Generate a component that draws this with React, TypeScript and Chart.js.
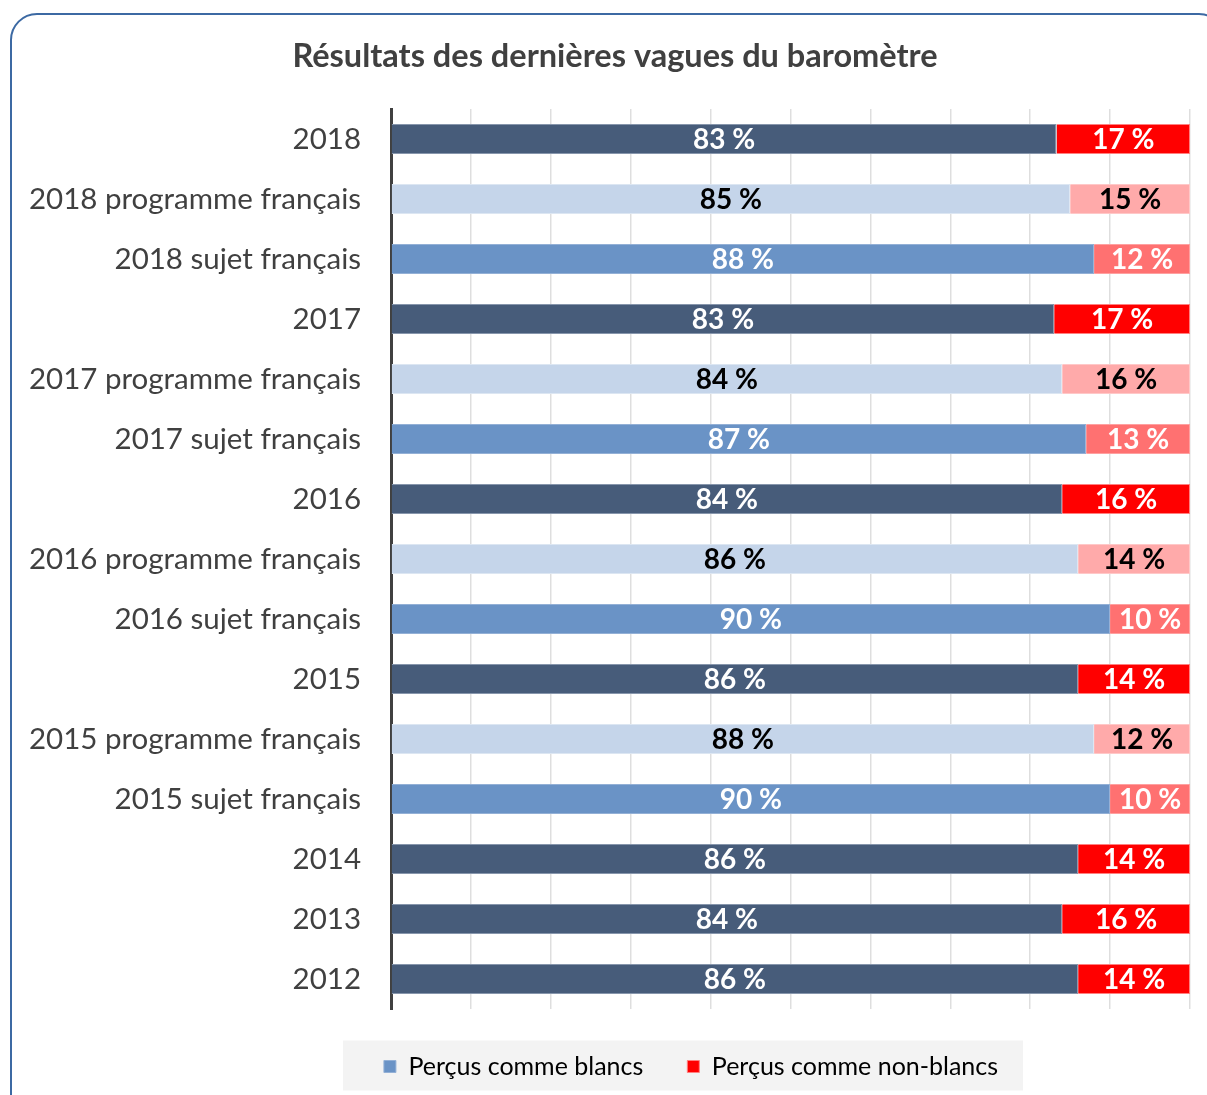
import React, { useEffect, useRef } from "react";
import { Chart, registerables } from "chart.js";

Chart.register(...registerables);

const titleText = "Résultats des dernières vagues du baromètre";
const categories = [
  "2018",
  "2018 programme français",
  "2018 sujet français",
  "2017",
  "2017 programme français",
  "2017 sujet français",
  "2016",
  "2016 programme français",
  "2016 sujet français",
  "2015",
  "2015 programme français",
  "2015 sujet français",
  "2014",
  "2013",
  "2012",
];
const seriesNames = ["Perçus comme blancs", "Perçus comme non-blancs"];
const blancs = [83.3, 85, 88, 83, 84, 87, 84, 86, 90, 86, 88, 90, 86, 84, 86];
const nonBlancs = [16.7, 15, 12, 17, 16, 13, 16, 14, 10, 14, 12, 10, 14, 16, 14];

const FONT = "Lato, 'Open Sans', sans-serif";
const TEXT = "#404040";

const BLUE = ["#475C7A", "#C5D5EA", "#6A93C6"];
const BLUE_BORDER = ["#8796AC", "#DCE6F2", "#93B0D6"];
const RED = ["#FF0000", "#FFAAAA", "#FF7171"];
const RED_BORDER = ["#FF8080", "#FFC8C8", "#FFA0A0"];
const LABEL_COLOR = ["#FFFFFF", "#000000", "#FFFFFF"];

const kindOf = (c: string) => (c.includes("programme") ? 1 : c.includes("sujet") ? 2 : 0);

const LEGEND_PAD = 44;
const LEGEND_FONT = 25;

export default function App() {
  const ref = useRef<HTMLCanvasElement>(null);

  useEffect(() => {
    const canvas = ref.current!;
    const kinds = categories.map(kindOf);

    const blockShift = {
      id: "blockShift",
      afterLayout(chart: any) {
        const lg = chart.legend;
        if (lg) {
          const shift = 681 - (lg.left + lg.right) / 2;
          lg.left += shift;
          lg.right += shift;
        }
        const tb = chart.titleBlock;
        if (tb) {
          const shift = 605 - (tb.left + tb.right) / 2;
          tb.left += shift;
          tb.right += shift;
        }
      },
    };

    const legendBg = {
      id: "legendBg",
      beforeDraw(chart: any) {
        const lg = chart.legend;
        if (!lg) return;
        const ctx = chart.ctx;
        const cx = (lg.left + lg.right) / 2 - 8;
        const cy = lg.top + LEGEND_PAD + LEGEND_FONT / 2;
        ctx.save();
        ctx.fillStyle = "#F3F3F3";
        ctx.fillRect(cx - 340, cy - 26, 680, 50);
        ctx.restore();
      },
    };

    const barLabels = {
      id: "barLabels",
      afterDraw(chart: any) {
        const ctx = chart.ctx;
        ctx.save();
        ctx.font = `bold 28px ${FONT}`;
        ctx.textAlign = "center";
        ctx.textBaseline = "middle";
        chart.data.datasets.forEach((ds: any, di: number) => {
          const meta = chart.getDatasetMeta(di);
          meta.data.forEach((el: any, i: number) => {
            const v = ds.data[i] as number;
            const p = el.getCenterPoint();
            ctx.fillStyle = LABEL_COLOR[kinds[i]];
            ctx.fillText(`${Math.round(v)} %`, p.x, p.y + 1);
          });
        });
        ctx.restore();
      },
    };

    const chart = new Chart(canvas, {
      type: "bar",
      data: {
        labels: categories,
        datasets: [
          {
            label: seriesNames[0],
            data: blancs,
            backgroundColor: kinds.map((k) => BLUE[k]),
            borderColor: kinds.map((k) => BLUE_BORDER[k]),
            borderWidth: 1,
            barPercentage: 0.5,
            categoryPercentage: 1,
          },
          {
            label: seriesNames[1],
            data: nonBlancs,
            backgroundColor: kinds.map((k) => RED[k]),
            borderColor: kinds.map((k) => RED_BORDER[k]),
            borderWidth: 1,
            barPercentage: 0.5,
            categoryPercentage: 1,
          },
        ],
      },
      options: {
        indexAxis: "y",
        responsive: false,
        animation: false,
        devicePixelRatio: 1,
        layout: { padding: { left: 0, right: 30, top: 0, bottom: 6 } },
        scales: {
          x: {
            stacked: true,
            min: 0,
            max: 100,
            z: 1,
            ticks: { display: false, stepSize: 10 },
            grid: { color: "rgba(0,0,0,0.13)", lineWidth: 1.5, drawTicks: false },
            border: { display: false },
            afterFit: (s: any) => {
              s.height = 1;
            },
          },
          y: {
            stacked: true,
            grid: { display: false, drawTicks: false },
            border: { display: true, color: "#404040", width: 3 },
            ticks: { color: TEXT, font: { family: FONT, size: 29.5 }, padding: 30 },
            afterFit: (s: any) => {
              s.width = 381;
            },
          },
        },
        plugins: {
          title: {
            display: true,
            text: titleText,
            color: TEXT,
            font: { family: FONT, size: 32.5, weight: "bold" },
            padding: { top: 24.5, bottom: 32.5 },
          },
          legend: {
            display: true,
            position: "bottom",
            labels: {
              color: TEXT,
              font: { family: FONT, size: LEGEND_FONT },
              boxWidth: 12,
              boxHeight: 12,
              padding: LEGEND_PAD,
              generateLabels: () => [
                { text: seriesNames[0], fillStyle: "#6A93C6", strokeStyle: "#93B0D6", lineWidth: 1, datasetIndex: 0 },
                { text: seriesNames[1], fillStyle: "#FF0000", strokeStyle: "#FF8080", lineWidth: 1, datasetIndex: 1 },
              ],
            },
          },
          tooltip: { enabled: false },
        },
      } as any,
      plugins: [blockShift, legendBg, barLabels],
    });
    return () => chart.destroy();
  }, []);

  return (
    <div style={{ position: "fixed", left: 0, top: 0, width: 1207, height: 1095, overflow: "hidden", background: "#fff" }}>
      <div style={{ position: "absolute", left: 10, top: 13, width: 1210, height: 1082 }}>
        <canvas ref={ref} width={1210} height={1082} style={{ display: "block" }} />
      </div>
      <div
        style={{
          position: "absolute",
          left: 10,
          top: 13,
          width: 1216,
          height: 1110,
          boxSizing: "border-box",
          border: "2px solid #3C69A3",
          borderRadius: 27,
          pointerEvents: "none",
        }}
      />
    </div>
  );
}
